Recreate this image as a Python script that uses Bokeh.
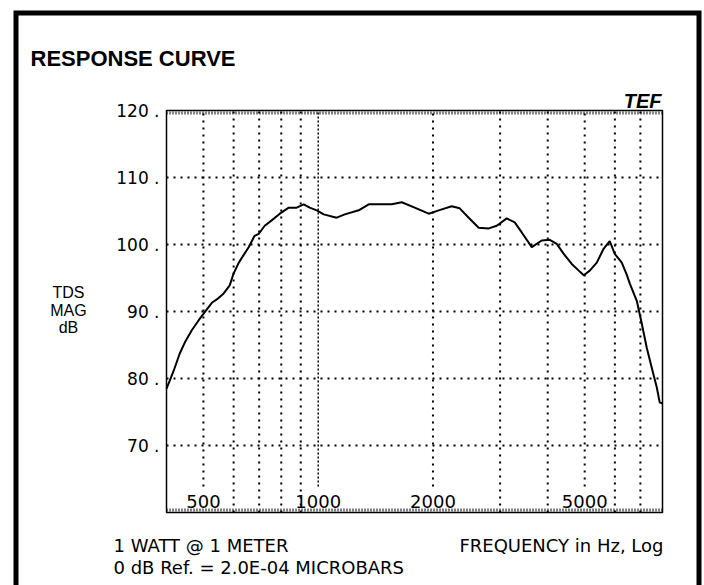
import math
from bokeh.plotting import figure
from bokeh.models import Range1d, LinearScale
from bokeh.embed import file_html
from bokeh.resources import INLINE
from bokeh.core.properties import value

# ---- data ----
freq = [400, 408, 418, 433, 447, 466, 486, 504, 526, 542, 565, 586, 600, 619, 657,
        681, 698, 724, 755, 793, 837, 878, 916, 950, 991, 1034, 1118, 1174, 1277,
        1357, 1559, 1656, 1791, 1949, 2071, 2239, 2350, 2482, 2636, 2802, 2940,
        3123, 3277, 3419, 3632, 3858, 4049, 4224, 4406, 4624, 4824, 4972, 5156,
        5379, 5610, 5817, 5996, 6255, 6446, 6564, 6848, 7058, 7274, 7497, 7727,
        7868, 8000]
db = [78.5, 79.7, 81.2, 83.7, 85.4, 87.2, 88.7, 89.9, 91.3, 91.8, 92.7, 93.9, 95.7,
      97.3, 99.6, 101.3, 101.6, 102.8, 103.6, 104.6, 105.5, 105.5, 106.0, 105.5,
      105.1, 104.5, 104.0, 104.5, 105.1, 106.0, 106.0, 106.3, 105.5, 104.6, 105.1,
      105.7, 105.4, 104.0, 102.5, 102.4, 102.8, 103.9, 103.3, 101.8, 99.6, 100.6,
      100.7, 100.1, 98.6, 97.1, 96.1, 95.4, 96.1, 97.3, 99.4, 100.5, 98.6, 97.3,
      95.5, 94.2, 91.6, 88.2, 84.6, 81.6, 78.7, 76.4, 76.3]

x_min, x_max = 400, 8000
y_min, y_max = 60, 120
y_ticks = [70, 80, 90, 100, 110, 120]
y_tick_text = ["70 .", "80 .", "90 .", "100 .", "110 .", "120 ."]
y_grid = [70, 80, 90, 100, 110]
x_grid = [500, 600, 700, 800, 900, 2000, 3000, 4000, 5000, 6000, 7000]
x_dense = [1000]
x_labels = [500, 1000, 2000, 5000]
x_label_text = ["500", "1000", "2000", "5000"]

title_text = "RESPONSE CURVE"
ylabel_lines = ["TDS", "MAG", "dB"]
note_lines = ["1 WATT @ 1 METER", "0 dB Ref. = 2.0E-04 MICROBARS"]
xlabel_text = "FREQUENCY in Hz, Log"
logo_text = "TEF"

# ---- layout (canvas pixels) ----
W, H = 704, 585
FL, FR, FT, FB = 166, 662, 110, 512          # chart frame edges
kx = (FR - FL) / math.log10(x_max / x_min)    # px per decade
ky = (FB - FT) / (y_max - y_min)              # px per dB
xr = (x_min / 10 ** (FL / kx), x_max * 10 ** ((W - FR) / kx))
yr = (y_min - (H - FB) / ky, y_max + FT / ky)

FONT = "DejaVu Sans"
HELV = "Liberation Sans"

p = figure(width=W, height=H, x_axis_type="log", x_range=xr, y_range=yr,
           x_axis_location=None, y_axis_location=None, min_border=0,
           output_backend="svg", toolbar_location=None, title=None)
p.extra_x_ranges = {"px": Range1d(0, W)}
p.extra_y_ranges = {"px": Range1d(H, 0)}
p.extra_x_scales = {"px": LinearScale()}
p.extra_y_scales = {"px": LinearScale()}
p.outline_line_color = None
p.background_fill_color = "white"
p.border_fill_color = "white"
p.xgrid.visible = False
p.ygrid.visible = False

PX = dict(x_range_name="px", y_range_name="px")

# ---- dotted grid ----
gap = 26 / ky  # labelled verticals stop above their label
p.segment(x0=x_grid, x1=x_grid,
          y0=[y_min + (gap if x in x_labels else 0) for x in x_grid],
          y1=[y_max] * len(x_grid),
          line_color="black", line_width=2, line_dash="2 5")
p.segment(x0=x_dense, x1=x_dense,
          y0=[y_min + gap] * len(x_dense), y1=[y_max] * len(x_dense),
          line_color="black", line_width=1.5, line_dash="2 2")
p.segment(x0=[x_min] * len(y_grid), x1=[x_max] * len(y_grid), y0=y_grid, y1=y_grid,
          line_color="black", line_width=2, line_dash="2 5")

# tick rows inside top and bottom border
p.segment(x0=[FL, FL], x1=[FR, FR], y0=[FT + 2.5, FB - 2.5], y1=[FT + 2.5, FB - 2.5],
          line_color="black", line_width=3, line_dash="1 2", **PX)

# chart frame
p.quad(left=[x_min], right=[x_max], bottom=[y_min], top=[y_max],
       fill_color=None, line_color="black", line_width=1.5)

# response curve
p.line(freq, db, line_color="black", line_width=2)

# tick labels
p.text(x=[x_min] * len(y_ticks), y=y_ticks, text=y_tick_text, x_offset=-7,
       text_align="right", text_baseline="middle", text_color="black",
       text_font=value(FONT), text_font_size="17px")
p.text(x=x_labels, y=[y_min + 11 / ky] * len(x_labels), text=x_label_text,
       text_align="center", text_baseline="middle", text_color="black",
       text_font=value(FONT), text_font_size="18px")

# outer thick frame
p.line(x=[15.5, 15.5, 698.5, 698.5], y=[H + 40, 12.5, 12.5, H + 40],
       line_color="black", line_width=5, line_join="miter", **PX)

# texts around the chart
p.text(x=[30], y=[58], text=[title_text], text_font=value(HELV),
       text_font_size="22px", text_font_style="bold", text_color="black",
       text_baseline="alphabetic", **PX)
p.text(x=[661], y=[100], text=[logo_text], text_font=value(HELV),
       text_font_size="20px", text_font_style="bold italic", text_color="black",
       text_align="right", text_baseline="alphabetic", **PX)
p.text(x=[68] * 3, y=[292, 310, 327], text=ylabel_lines, text_font=value(HELV),
       text_font_size="16px", text_color="black", text_align="center",
       text_baseline="alphabetic", **PX)
p.text(x=[113, 113], y=[545, 567], text=note_lines, text_font=value(FONT),
       text_font_size="18px", text_color="black", text_baseline="alphabetic", **PX)
p.text(x=[663], y=[545], text=[xlabel_text], text_font=value(FONT),
       text_font_size="18px", text_color="black", text_align="right",
       text_baseline="alphabetic", **PX)

open("out.html", "w").write(file_html(p, INLINE))
